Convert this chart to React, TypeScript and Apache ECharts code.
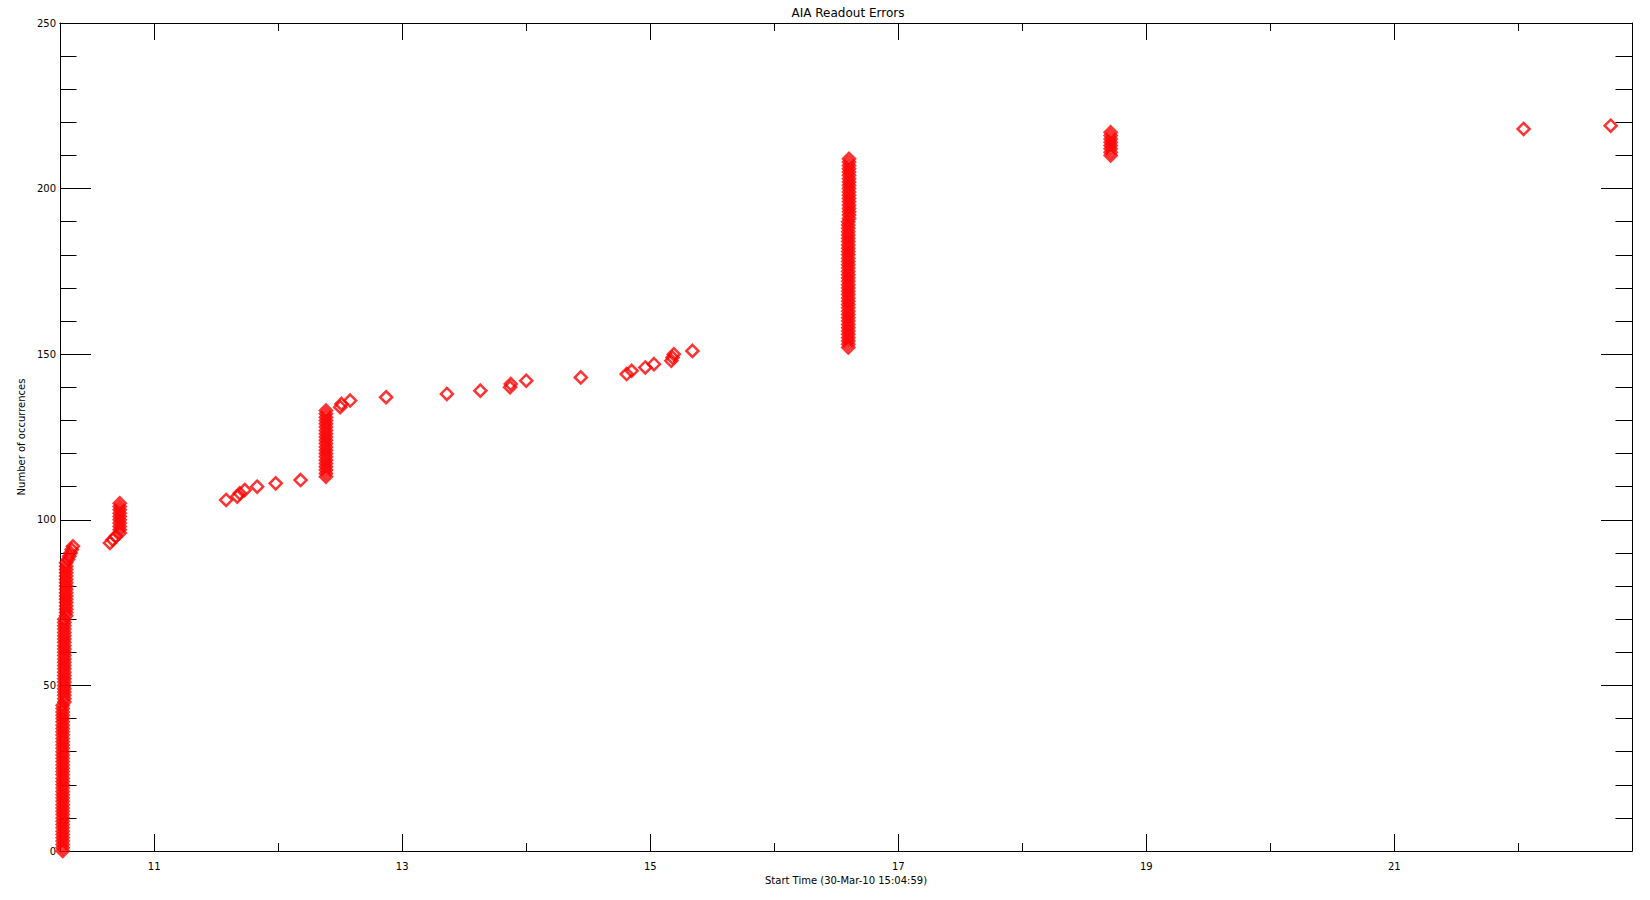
import React, { useEffect, useRef } from "react";
import * as echarts from "echarts";

// ---- Data (hours of start time vs cumulative number of occurrences) ----
const burstHours = [10.262, 10.275, 10.29, 10.722, 12.385, 16.597, 16.603, 18.713];
const burstCounts = [
  [0, 1, 2, 3, 4, 5, 6, 7, 8, 9, 10, 11, 12, 13, 14, 15, 16, 17, 18, 19, 20, 21, 22, 23, 24, 25, 26, 27, 28, 29, 30, 31, 32, 33, 34, 35, 36, 37, 38, 39, 40, 41, 42, 43, 44],
  [45, 46, 47, 48, 49, 50, 51, 52, 53, 54, 55, 56, 57, 58, 59, 60, 61, 62, 63, 64, 65, 66, 67, 68, 69, 70],
  [71, 72, 73, 74, 75, 76, 77, 78, 79, 80, 81, 82, 83, 84, 85, 86, 87],
  [96, 97, 98, 99, 100, 101, 102, 103, 104, 105],
  [113, 114, 115, 116, 117, 118, 119, 120, 121, 122, 123, 124, 125, 126, 127, 128, 129, 130, 131, 132, 133],
  [152, 153, 154, 155, 156, 157, 158, 159, 160, 161, 162, 163, 164, 165, 166, 167, 168, 169, 170, 171, 172, 173, 174, 175, 176, 177, 178, 179, 180, 181, 182, 183, 184, 185, 186, 187, 188, 189, 190],
  [191, 192, 193, 194, 195, 196, 197, 198, 199, 200, 201, 202, 203, 204, 205, 206, 207, 208, 209],
  [210, 211, 212, 213, 214, 215, 216, 217],
];
const singleHours = [
  10.305, 10.315, 10.325, 10.335, 10.345, 10.643, 10.665, 10.69,
  11.58, 11.67, 11.69, 11.73, 11.83, 11.98, 12.18,
  12.5, 12.51, 12.58, 12.87, 13.36, 13.63, 13.87, 13.875, 14.0, 14.44,
  14.81, 14.85, 14.96, 15.03, 15.17, 15.18, 15.19, 15.34,
  22.043, 22.745,
];
const singleCounts = [
  88, 89, 90, 91, 92, 93, 94, 95,
  106, 107, 108, 109, 110, 111, 112,
  134, 135, 136, 137, 138, 139, 140, 141, 142, 143,
  144, 145, 146, 147, 148, 149, 150, 151,
  218, 219,
];
const majorHourTicks = [11, 13, 15, 17, 19, 21];
const minorHourTicks = [12, 14, 16, 18, 20, 22];

const X_MIN = 10.2403;
const X_MAX = 22.917;
const Y_MIN = 0;
const Y_MAX = 250;

const FONT = "DejaVu Sans";

export default function App() {
  const ref = useRef<HTMLDivElement>(null);
  useEffect(() => {
    if (!ref.current) return;
    const chart = echarts.init(ref.current, undefined, { renderer: "svg" });
    const data: number[][] = [];
    burstHours.forEach((h, i) => burstCounts[i].forEach((c) => data.push([h, c])));
    singleHours.forEach((h, i) => data.push([h, singleCounts[i]]));

    const line = { color: "#000", width: 1 };
    const xCommon = (pos: string) => ({
      type: "value",
      position: pos,
      min: X_MIN,
      max: X_MAX,
      splitLine: { show: false },
      axisLine: { show: true, onZero: false, lineStyle: line },
    });
    const yCommon = (pos: string) => ({
      type: "value",
      position: pos,
      min: Y_MIN,
      max: Y_MAX,
      interval: 50,
      splitLine: { show: false },
      axisLine: { show: true, onZero: false, lineStyle: line },
      axisTick: { show: true, inside: true, length: 31, lineStyle: line },
      minorTick: { show: true, splitNumber: 5, length: 16.5, lineStyle: line },
      minorSplitLine: { show: false },
    });

    chart.setOption({
      animation: false,
      backgroundColor: "#fff",
      title: {
        text: "AIA Readout Errors",
        left: 843,
        textAlign: "center",
        top: 2,
        textStyle: { fontFamily: FONT, fontSize: 12, fontWeight: "normal", color: "#000" },
      },
      grid: { left: 60, top: 23, width: 1572, height: 828, containLabel: false },
      xAxis: [
        {
          ...xCommon("bottom"),
          axisTick: { show: true, inside: true, length: 17, lineStyle: line, customValues: majorHourTicks },
          axisLabel: { show: true, customValues: majorHourTicks, fontFamily: FONT, fontSize: 10, color: "#000", margin: 10 },
          name: "Start Time (30-Mar-10 15:04:59)",
          nameLocation: "middle",
          nameGap: 24,
          nameTextStyle: { fontFamily: FONT, fontSize: 10, color: "#000" },
        },
        {
          ...xCommon("bottom"),
          axisTick: { show: true, inside: true, length: 8, lineStyle: line, customValues: minorHourTicks },
          axisLabel: { show: false },
        },
        {
          ...xCommon("top"),
          axisTick: { show: true, inside: true, length: 17, lineStyle: line, customValues: majorHourTicks },
          axisLabel: { show: false },
        },
        {
          ...xCommon("top"),
          axisTick: { show: true, inside: true, length: 8, lineStyle: line, customValues: minorHourTicks },
          axisLabel: { show: false },
        },
      ],
      yAxis: [
        {
          ...yCommon("left"),
          axisLabel: { show: true, fontFamily: FONT, fontSize: 10, color: "#000", margin: 4 },
          name: "Number of occurrences",
          nameLocation: "middle",
          nameGap: 14,
          nameTextStyle: { fontFamily: FONT, fontSize: 10, color: "#000" },
        },
        {
          ...yCommon("right"),
          axisLabel: { show: false },
        },
      ],
      series: [
        {
          type: "scatter",
          xAxisIndex: 0,
          yAxisIndex: 0,
          data,
          symbol: "diamond",
          symbolSize: 12,
          itemStyle: { color: "rgba(0,0,0,0)", borderColor: "#ff0000", borderWidth: 2.5 },
          emphasis: { disabled: true },
          silent: true,
        },
      ],
    });
    return () => chart.dispose();
  }, []);
  return (
    <div
      ref={ref}
      style={{ position: "fixed", left: 0, top: 0, width: 1650, height: 900 }}
    />
  );
}
